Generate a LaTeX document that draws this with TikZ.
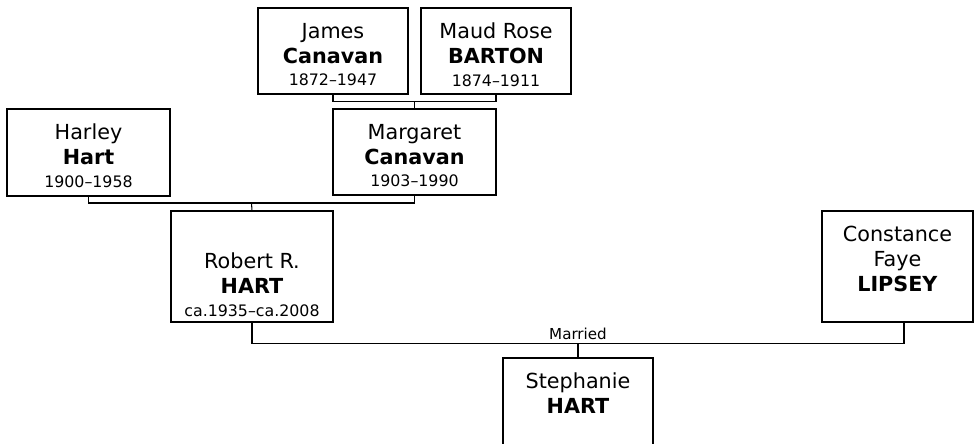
\documentclass[tikz,border=0pt]{standalone}
\usepackage{fontspec}
\setmainfont{DejaVu Sans}
\usetikzlibrary{calc}
\newcommand{\cardtext}[3][0.3cm]{%
  \begin{minipage}[c][#2][t]{2.9cm}\centering
  \fontsize{11.8pt}{14.2pt}\selectfont\vspace*{#1}#3\end{minipage}}
\newcommand{\lifespan}[1]{\\[-1.5pt]{\fontsize{9pt}{14.2pt}\selectfont #1}}

\begin{document}
\begin{tikzpicture}[x=0.02cm, y=-0.02cm,
      card/.style={draw, line width=0.6pt, inner sep=0pt, minimum width=#1},
      link/.style={line width=0.6pt},
      every node/.style={align=center}]
    \clip (0,0) rectangle (977,443);
    % Bisabuelos
    \node[card=3cm] (james) at (333,51)
      {\cardtext{1.72cm}{James\\\textbf{Canavan}\lifespan{1872--1947}}};
    \node[card=3cm] (maud) at (496,51)
      {\cardtext{1.72cm}{Maud Rose\\\textbf{BARTON}\lifespan{1874--1911}}};
    % Abuelos
    \node[card=3.26cm] (harley) at (88.5,152.5)
      {\cardtext{1.74cm}{Harley\\\textbf{Hart}\lifespan{1900--1958}}};
    \node[card=3.26cm] (margaret) at (414.5,152)
      {\cardtext{1.72cm}{Margaret\\\textbf{Canavan}\lifespan{1903--1990}}};
    % Padres
    \node[card=3.24cm] (robert) at (252,266.5)
      {\cardtext[0.84cm]{2.22cm}{Robert R.\\\textbf{HART}\lifespan{ca.1935--ca.2008}}};
    \node[card=3.02cm] (constance) at (897.5,266.5)
      {\cardtext{2.22cm}{Constance\\Faye\\\textbf{LIPSEY}}};
    % Hija
    \node[card=3cm] (stephanie) at (578,408)
      {\cardtext{2cm}{Stephanie\\\textbf{HART}}};
    % Lineas
    \coordinate (jm) at ($(james.south)!0.5!(maud.south)+(0,7)$);
    \draw[link] (james.south) |- (jm) -| (maud.south);
    \draw[link] (jm) -- (margaret.north);
    \coordinate (hm) at ($(harley.south)!0.5!(margaret.south)+(0,7)$);
    \draw[link] (harley.south) |- (hm) -| (margaret.south);
    \draw[link] (hm) -- (robert.north);
    \coordinate (wed) at ($(robert.south)+(0,21)$);
    \draw[link] (robert.south) -- (wed) -| ($(constance.south)+(6.5,0)$);
    \coordinate (kid) at (stephanie.north |- wed);
    \draw[link] (kid) -- (stephanie.north);
    \node[anchor=base, inner sep=0pt, font=\fontsize{8.6pt}{10pt}\selectfont]
      (married) at ($(kid)+(0,-4.5)$) {Married};
  \end{tikzpicture}
\end{document}
